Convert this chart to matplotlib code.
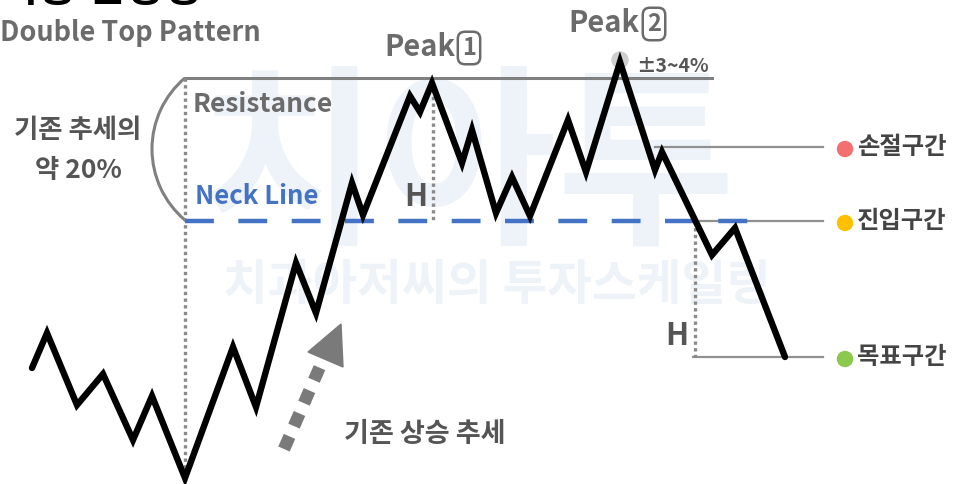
import numpy as np
import matplotlib
matplotlib.use("Agg")
import matplotlib.pyplot as plt
from matplotlib.patches import Arc, Circle, Polygon

# ---- data (pixel-space layout of the schematic) ----
price_x = [32, 47, 77, 103, 133, 152, 185, 233, 256, 296, 316, 352, 363, 410, 420, 432,
           462, 472, 496, 512, 530, 568, 586, 620, 655, 662, 712, 735, 785]
price_y = [368, 333, 405, 374, 440, 396, 478, 347, 407, 263, 313, 183, 215, 96, 112, 83,
           163, 130, 213, 177, 216, 120, 172, 62, 170, 152, 255, 228, 357]

resistance_y = 78
neck_y = 221
stop_y = 147
target_y = 357
zone_labels = ["손절구간", "진입구간", "목표구간"]
zone_levels = [stop_y, neck_y, target_y]
zone_colors = ["#f27070", "#ffc000", "#8cc84b"]

GRAY = "#6b6b6b"
DARK = "#555555"
BLUE = "#4472c4"
LAT = ["Noto Sans CJK KR", "DejaVu Sans"]
KR = ["Noto Sans CJK KR", "DejaVu Sans"]

fig = plt.figure(figsize=(9.56, 4.84), dpi=100)
ax = fig.add_axes([0, 0, 1, 1])
ax.set_xlim(0, 956)
ax.set_ylim(484, 0)
ax.axis("off")

# watermark
wm = "#eef3f9"
ax.text(468, 172, "치아투", fontsize=140, color=wm, ha="center", va="center",
        family=KR, fontweight="bold", zorder=0)
ax.text(497, 285, "치과아저씨의 투자스케일링", fontsize=35, color=wm, ha="center",
        va="center", family=KR, fontweight="bold", zorder=0)

# cut-off title
ax.text(0, 10, "이중 천정형", fontsize=30, color="black", ha="left", va="bottom",
        family=KR, fontweight="black", zorder=5)
ax.text(0, 33, "Double Top Pattern", fontsize=19.5, color=GRAY, ha="left", va="center",
        family=LAT, fontweight="bold")

# resistance line and bracket
ax.plot([185, 712], [resistance_y, resistance_y], color="#808080", lw=2.2, zorder=2)
ax.add_patch(Arc((245, 149), 186, 186, theta1=130.2, theta2=229.8,
                 color="#808080", lw=2.2, zorder=2))

# zone lines
ax.plot([655, 823], [stop_y, stop_y], color="#909090", lw=1.6, zorder=2)
ax.plot([700, 823], [neck_y, neck_y], color="#909090", lw=1.6, zorder=2)
ax.plot([693, 823], [target_y, target_y], color="#909090", lw=1.6, zorder=2)

# neck line
ax.plot([185, 770], [neck_y, neck_y], color=BLUE, lw=3.2, dashes=(6.5, 5.5), zorder=3)

# dotted verticals
dot = dict(color="#8a8a8a", lw=2.4, linestyle=(0, (1, 1)), zorder=2)
ax.plot([185, 185], [resistance_y, 478], **dot)
ax.plot([433, 433], [price_y[15], neck_y], **dot)
ax.plot([695, 695], [neck_y, target_y], **dot)

# price path
ax.plot(price_x, price_y, color="black", lw=4.6, solid_joinstyle="miter",
        solid_capstyle="round", zorder=6)

# peak 2 marker
ax.add_patch(Circle((620, 60), 8, color="#cfcfcf", zorder=5))

# text labels
ax.text(193, 104, "Resistance", fontsize=19, color=GRAY, family=LAT,
        fontweight="bold", va="center", ha="left")
ax.text(195, 196, "Neck Line", fontsize=18.5, color=BLUE, family=LAT,
        fontweight="bold", va="center", ha="left")
ax.text(78, 131, "기존 추세의", fontsize=19, color=DARK, family=KR,
        fontweight="black", ha="center", va="center")
ax.text(78, 171, "약 20%", fontsize=19, color=DARK, family=KR,
        fontweight="black", ha="center", va="center")
ax.text(416, 197, "H", fontsize=22, color=DARK, family=LAT, fontweight="bold",
        ha="center", va="center")
ax.text(677, 336, "H", fontsize=22, color=DARK, family=LAT, fontweight="bold",
        ha="center", va="center")

box = dict(boxstyle="round,pad=0.18,rounding_size=0.3", fc="white", ec=GRAY, lw=1.8)
ax.text(384, 47, "Peak", fontsize=21, color=GRAY, family=LAT, fontweight="bold",
        ha="left", va="center")
ax.text(469, 48, "1", fontsize=17, color=GRAY, family=LAT, fontweight="bold",
        ha="center", va="center", bbox=box)
ax.text(568, 23, "Peak", fontsize=21, color=GRAY, family=LAT, fontweight="bold",
        ha="left", va="center")
ax.text(654, 24, "2", fontsize=17, color=GRAY, family=LAT, fontweight="bold",
        ha="center", va="center", bbox=box)
ax.text(636, 66, "±3~4%", fontsize=14, color=DARK, family=LAT, fontweight="bold",
        ha="left", va="center")

for lab, lvl, col in zip(zone_labels, zone_levels, zone_colors):
    ax.add_patch(Circle((845, lvl + 2), 7.5, color=col, zorder=5))
    ax.text(857, lvl, lab, fontsize=17.5, color="#444444", family=KR,
            fontweight="black", ha="left", va="center")

# dotted uptrend arrow
ax.plot([284, 322], [449, 362], color="#7a7a7a", lw=9, dashes=(1.1, 0.9),
        solid_capstyle="butt", dash_capstyle="butt", zorder=4)
ax.add_patch(Polygon([[341, 324], [308, 352], [343, 367]], closed=True,
                     color="#7a7a7a", zorder=4))
ax.text(425, 434, "기존 상승 추세", fontsize=19.5, color=DARK, family=KR,
        fontweight="black", ha="center", va="center")

fig.savefig("out.png", dpi=100)
